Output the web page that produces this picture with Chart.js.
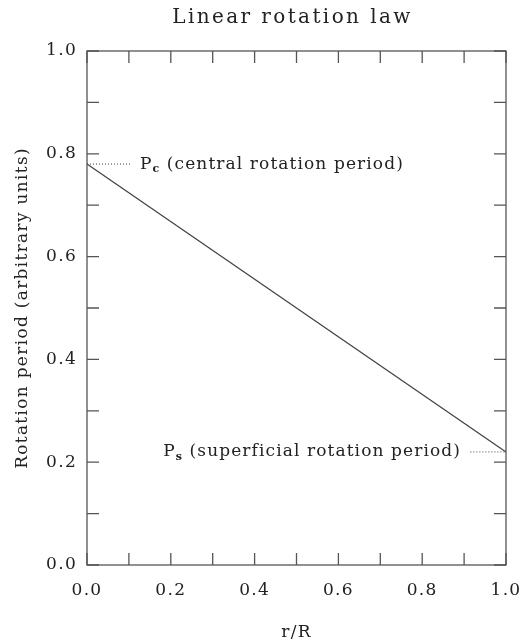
<!DOCTYPE html>
<html>
<head>
<meta charset="utf-8">
<script src="https://cdn.jsdelivr.net/npm/chart.js@4"></script>
<style>
  html, body { margin: 0; padding: 0; background: #fff; }
  #wrap { width: 531px; height: 643px; }
</style>
</head>
<body>
<div id="wrap"><canvas id="rotChart" width="531" height="643"></canvas></div>
<script>
// chart data
const radius = [0, 1];
const period = [0.78, 0.22];
const centralDotX = [0, 0.107];
const centralDotY = [0.78, 0.78];
const surfaceDotX = [0.915, 1];
const surfaceDotY = [0.22, 0.22];
const tickValues = [0, 0.1, 0.2, 0.3, 0.4, 0.5, 0.6, 0.7, 0.8, 0.9, 1.0];

const FONT = "'DejaVu Serif', serif";
const INK = "#222";
const AXIS = "#555";

function pts(xs, ys) {
    return xs.map((x, i) => ({ x: x, y: ys[i] }));
}

// frame, inward ticks on all sides, title and annotations
const framePlugin = {
    id: "frame",
    beforeDraw(chart) {
        chart.ctx.letterSpacing = "1.3px";
    },
    afterDraw(chart) {
        const ctx = chart.ctx;
        const a = chart.chartArea;
        const xs = chart.scales.x, ys = chart.scales.y;
        ctx.save();
        ctx.strokeStyle = AXIS;
        ctx.lineWidth = 1.3;
        ctx.strokeRect(a.left, a.top, a.right - a.left, a.bottom - a.top);
        ctx.beginPath();
        tickValues.forEach(v => {
            const px = xs.getPixelForValue(v);
            ctx.moveTo(px, a.bottom); ctx.lineTo(px, a.bottom - 12);
            ctx.moveTo(px, a.top); ctx.lineTo(px, a.top + 12);
            const py = ys.getPixelForValue(v);
            ctx.moveTo(a.left, py); ctx.lineTo(a.left + 12, py);
            ctx.moveTo(a.right, py); ctx.lineTo(a.right - 12, py);
        });
        ctx.stroke();

        // title
        ctx.fillStyle = INK;
        ctx.textBaseline = "middle";
        ctx.textAlign = "center";
        ctx.letterSpacing = "2.4px";
        ctx.font = "20px " + FONT;
        ctx.fillText("Linear rotation law", (a.left + a.right) / 2 - 4, 18);

        // annotations
        ctx.letterSpacing = "1.1px";
        function label(x, y, sub, rest, alignRight) {
            ctx.font = "17px " + FONT;
            const wP = ctx.measureText("P").width;
            ctx.font = "bold 11px " + FONT;
            const wS = ctx.measureText(sub).width;
            ctx.font = "17px " + FONT;
            const wR = ctx.measureText(rest).width;
            let x0 = alignRight ? x - (wP + wS + wR) : x;
            ctx.textAlign = "left";
            ctx.fillText("P", x0, y);
            ctx.font = "bold 11px " + FONT;
            ctx.fillText(sub, x0 + wP, y + 5);
            ctx.font = "17px " + FONT;
            ctx.fillText(rest, x0 + wP + wS, y);
        }
        label(140, ys.getPixelForValue(0.78), "c", " (central rotation period)", false);
        label(461, ys.getPixelForValue(0.22), "s", " (superficial rotation period)", true);
        ctx.restore();
    }
};

new Chart(document.getElementById("rotChart").getContext("2d"), {
    type: "scatter",
    data: {
        datasets: [
            {
                data: pts(radius, period),
                showLine: true,
                borderColor: "#444",
                borderWidth: 1.3,
                pointRadius: 0
            },
            {
                data: pts(centralDotX, centralDotY),
                showLine: true,
                borderColor: "#444",
                borderWidth: 1,
                borderDash: [1, 2],
                pointRadius: 0
            },
            {
                data: pts(surfaceDotX, surfaceDotY),
                showLine: true,
                borderColor: "#444",
                borderWidth: 1,
                borderDash: [1, 2],
                pointRadius: 0
            }
        ]
    },
    options: {
        responsive: false,
        animation: false,
        layout: { padding: { top: 51, right: 25, left: 0, bottom: 0 } },
        plugins: {
            legend: { display: false },
            tooltip: { enabled: false },
            title: { display: false }
        },
        scales: {
            x: {
                type: "linear",
                min: 0, max: 1,
                grid: { display: false, drawTicks: false },
                border: { display: false },
                ticks: {
                    stepSize: 0.2,
                    padding: 15,
                    color: INK,
                    font: { family: FONT, size: 17 },
                    callback: v => v.toFixed(1)
                },
                title: {
                    display: true,
                    text: "r/R",
                    color: INK,
                    font: { family: FONT, size: 17 },
                    padding: { top: 17, bottom: 0 }
                },
                afterFit: s => { s.height = 78; s.paddingRight = 0; s.paddingLeft = 0; }
            },
            y: {
                type: "linear",
                min: 0, max: 1,
                grid: { display: false, drawTicks: false },
                border: { display: false },
                ticks: {
                    stepSize: 0.2,
                    padding: 10,
                    color: INK,
                    font: { family: FONT, size: 17 },
                    callback: v => v.toFixed(1)
                },
                title: {
                    display: true,
                    text: "Rotation period (arbitrary units)",
                    color: INK,
                    font: { family: FONT, size: 17 },
                    padding: { top: 12, bottom: 0 }
                },
                afterFit: s => { s.width = 87; s.paddingTop = 0; s.paddingBottom = 0; }
            }
        }
    },
    plugins: [framePlugin]
});
</script>
</body>
</html>
